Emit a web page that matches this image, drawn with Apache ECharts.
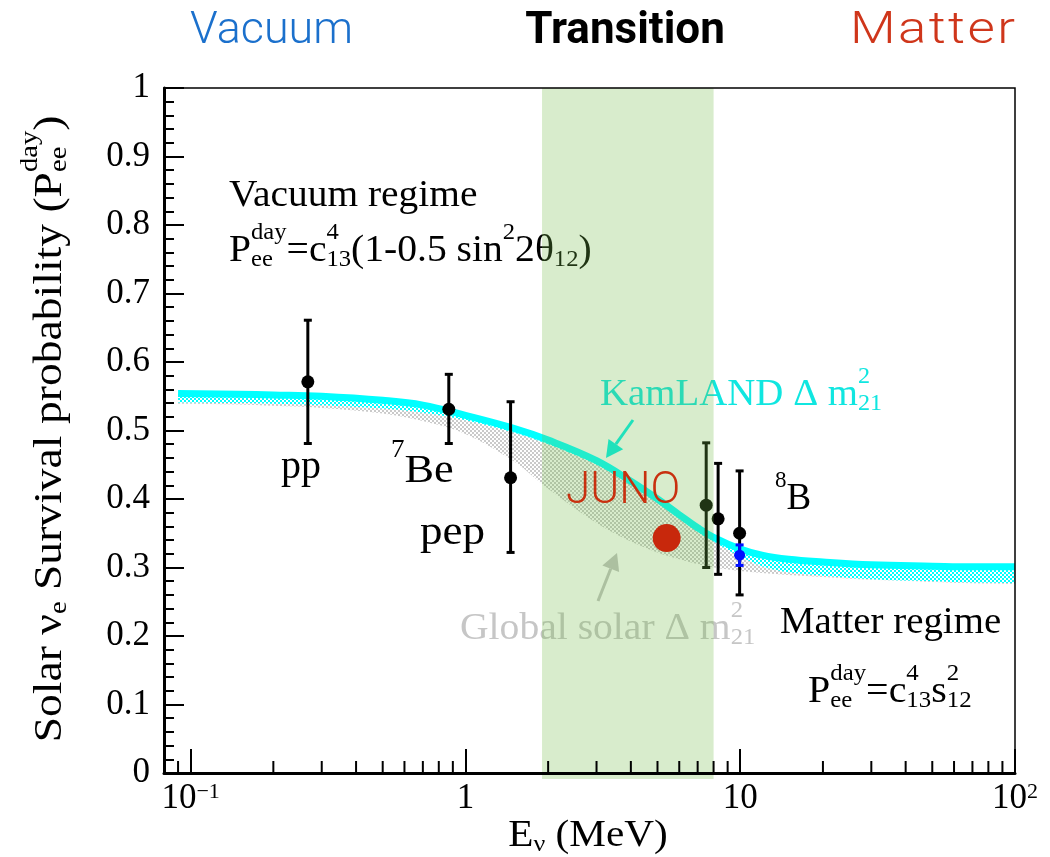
<!DOCTYPE html>
<html>
<head>
<meta charset="utf-8">
<title>Solar neutrino survival probability</title>
<script src="https://cdn.jsdelivr.net/npm/echarts@6/dist/echarts.min.js"></script>
<style>
  html, body { margin: 0; padding: 0; background: #ffffff; }
  #chart { width: 1050px; height: 857px; }
</style>
</head>
<body>
<div id="chart"></div>
<script>
// ---------- data ----------
// Energy grid (MeV) on which the two Pee bands are tabulated
const energyGrid = [0.09, 0.15, 0.2, 0.3, 0.5, 0.7, 1, 1.5, 2, 3, 4, 5, 6, 7, 8, 10, 12, 15, 20, 30, 50, 70, 100];
// KamLAND Δm²21 prediction: central curve and lower edge of its band
const kamlandCentral = [0.554, 0.553, 0.552, 0.550, 0.544, 0.537, 0.522, 0.503, 0.486, 0.456, 0.426, 0.400, 0.377, 0.358, 0.344, 0.327, 0.318, 0.312, 0.308, 0.304, 0.302, 0.301, 0.301];
const kamlandLower   = [0.541, 0.540, 0.539, 0.537, 0.532, 0.526, 0.515, 0.497, 0.480, 0.450, 0.420, 0.394, 0.371, 0.352, 0.338, 0.316, 0.302, 0.293, 0.288, 0.283, 0.280, 0.278, 0.277];
// Global solar Δm²21 prediction: lower edge (it reaches up to the KamLAND band)
const globalLower    = [0.539, 0.538, 0.536, 0.533, 0.525, 0.514, 0.495, 0.455, 0.415, 0.365, 0.338, 0.322, 0.312, 0.305, 0.300, 0.295, 0.292, 0.289, 0.286, 0.282, 0.279, 0.277, 0.276];

// Measurements: energy (MeV), Pee, lower and upper end of the error bar
const pointSource = ['pp', '7Be', 'pep', '8B', '8B', '8B', '8B'];
const pointEnergy = [0.267, 0.87, 1.46, 7.52, 8.31, 9.95, 9.95];
const pointPee    = [0.571, 0.531, 0.431, 0.391, 0.371, 0.350, 0.318];
const pointLow    = [0.481, 0.481, 0.322, 0.300, 0.290, 0.260, 0.303];
const pointHigh   = [0.661, 0.582, 0.542, 0.482, 0.452, 0.441, 0.333];

// JUNO expected point
const junoEnergy = [5.4];
const junoPee = [0.343];

// Transition region (MeV)
const transitionRange = [1.9, 8.0];

// Axis ticks
const xMinorTicks = [0.09, 0.2, 0.3, 0.4, 0.5, 0.6, 0.7, 0.8, 0.9, 2, 3, 4, 5, 6, 7, 8, 9, 20, 30, 40, 50, 60, 70, 80, 90];
const xTickLabels = { '-1': '{b|10}{s|\u22121}', '0': '{b|1}', '1': '{b|10}', '2': '{b|10}{s|2}' };

// ---------- styling helpers ----------
const SERIF = '"Liberation Serif", "Times New Roman", "DejaVu Serif", serif';
const SANS = 'Roboto, "Liberation Sans", Arial, sans-serif';

function checker(color, cell) {
  const c = document.createElement('canvas');
  c.width = c.height = cell * 2;
  const g = c.getContext('2d');
  g.fillStyle = color;
  g.fillRect(0, 0, cell, cell);
  g.fillRect(cell, cell, cell, cell);
  return { image: c, repeat: 'repeat' };
}
const grayHatch = checker('#cacaca', 2);
const cyanHatch = checker('#00ffff', 2);

const measureCtx = document.createElement('canvas').getContext('2d');
function textWidth(str, size, family, weight) {
  measureCtx.font = (weight || 'normal') + ' ' + size + 'px ' + family;
  return measureCtx.measureText(str).width;
}

// Lays out a line of text with stacked super/subscripts as a graphic group
function formula(parts, o) {
  const fam = o.family || SERIF;
  const S = o.size;
  const gap = o.spacing || 0;
  const items = [];
  let cx = 0;
  parts.forEach(function (p) {
    if (typeof p === 'string') {
      const chunks = gap ? p.split('') : [p];
      chunks.forEach(function (ch) {
        items.push({ t: ch, x: cx, dy: 0, s: S });
        cx += textWidth(ch, S, fam, o.weight) + gap;
      });
    } else {
      const s = Math.round(S * 0.62);
      let w = 0;
      if (p.sup) {
        items.push({ t: p.sup, x: cx, dy: -0.5 * S, s: s });
        w = Math.max(w, textWidth(p.sup, s, fam, o.weight));
      }
      if (p.sub) {
        items.push({ t: p.sub, x: cx, dy: 0.24 * S, s: s });
        w = Math.max(w, textWidth(p.sub, s, fam, o.weight));
      }
      cx += w;
    }
  });
  if (gap) cx -= gap;
  const sx = o.scaleX || 1;
  const off = o.align === 'center' ? -cx / 2 : (o.align === 'right' ? -cx : 0);
  return {
    type: 'group', x: o.x, y: o.y, rotation: o.rotation || 0, scaleX: sx, z: o.z || 5, silent: true,
    children: items.map(function (it) {
      return {
        type: 'text', x: it.x + off, y: it.dy, z: o.z || 5,
        style: { text: it.t, font: (o.weight || 'normal') + ' ' + it.s + 'px ' + fam, fill: o.fill || '#000', align: 'left', verticalAlign: 'middle' }
      };
    })
  };
}

function arrow(x1, y1, x2, y2, color, z) {
  const ang = Math.atan2(y2 - y1, x2 - x1);
  const L = 17, W = 9;
  const bx = x2 - L * Math.cos(ang), by = y2 - L * Math.sin(ang);
  const nx = -Math.sin(ang), ny = Math.cos(ang);
  return {
    type: 'group', z: z, silent: true,
    children: [
      { type: 'line', z: z, shape: { x1: x1, y1: y1, x2: bx, y2: by }, style: { stroke: color, lineWidth: 3 } },
      { type: 'polygon', z: z, shape: { points: [[x2, y2], [bx + nx * W, by + ny * W], [bx - nx * W, by - ny * W]] }, style: { fill: color } }
    ]
  };
}

// Band between two tabulated edges, drawn as one smoothed polygon
function bandSeries(name, lower, upper, fill, z) {
  return {
    type: 'custom', name: name, z: z, silent: true,
    data: energyGrid.map(function (e, i) { return [e, lower[i], upper[i]]; }),
    encode: { x: 0, y: [1, 2] },
    renderItem: function (params, api) {
      if (params.dataIndex !== 0) return null;
      const top = energyGrid.map(function (e, i) { return api.coord([e, upper[i]]); });
      const bot = energyGrid.map(function (e, i) { return api.coord([e, lower[i]]); }).reverse();
      const pts = [top[0]].concat(top, [top[top.length - 1]], [bot[0]], bot, [bot[bot.length - 1]]);
      return { type: 'polygon', shape: { points: pts, smooth: 0.35 }, style: { fill: fill } };
    }
  };
}

// Marker styles for the measurements
const markerColor = pointSource.map(function (s, i) { return i === 6 ? '#0010ff' : '#000000'; });
const markerRadius = pointSource.map(function (s, i) { return i === 6 ? 5.5 : 6.5; });

const chart = echarts.init(document.getElementById('chart'), null, { renderer: 'canvas' });

const option = {
  animation: false,
  backgroundColor: '#ffffff',
  grid: { left: 164, right: 35, top: 88, bottom: 84, show: true, borderColor: '#000', borderWidth: 1.5, z: 50, containLabel: false, outerBoundsMode: 'none' },
  xAxis: {
    type: 'log', logBase: 10, min: 0.08, max: 100, z: 50,
    axisLine: { lineStyle: { color: '#000', width: 3 } },
    axisTick: { inside: true, length: 24, lineStyle: { color: '#000', width: 2 } },
    minorTick: { show: false },
    splitLine: { show: false },
    axisLabel: {
      margin: 8,
      formatter: function (v) {
        const p = Math.round(Math.log10(v));
        if (Math.abs(Math.log10(v) - p) > 1e-6) return '';
        return xTickLabels[String(p)] || '';
      },
      rich: {
        b: { fontFamily: SERIF, fontSize: 35, lineHeight: 36, color: '#000' },
        s: { fontFamily: SERIF, fontSize: 22, color: '#000', verticalAlign: 'top' }
      }
    }
  },
  yAxis: {
    type: 'value', min: 0, max: 1, interval: 0.1, z: 50,
    axisLine: { show: true, lineStyle: { color: '#000', width: 3 } },
    axisTick: { show: true, inside: true, length: 20, lineStyle: { color: '#000', width: 2 } },
    minorTick: { show: true, splitNumber: 5, length: 10, lineStyle: { color: '#000', width: 2 } },
    splitLine: { show: false },
    axisLabel: { margin: 14, fontFamily: SERIF, fontSize: 35, color: '#000' }
  },
  series: [
    bandSeries('Global solar', globalLower, kamlandLower, grayHatch, 2),
    bandSeries('KamLAND band', kamlandLower, kamlandCentral, cyanHatch, 3),
    {
      type: 'line', name: 'KamLAND', z: 4, silent: true, smooth: 0.4, symbol: 'none',
      data: energyGrid.map(function (e, i) { return [e, kamlandCentral[i]]; }),
      lineStyle: { color: '#00ffff', width: 7 }
    },
    {
      type: 'custom', name: 'Measurements', z: 6, silent: true,
      data: pointEnergy.map(function (e, i) { return [e, pointPee[i], pointLow[i], pointHigh[i]]; }),
      encode: { x: 0, y: [1, 2, 3] },
      renderItem: function (params, api) {
        const i = params.dataIndex;
        const c = api.coord([api.value(0), api.value(1)]);
        const lo = api.coord([api.value(0), api.value(2)]);
        const hi = api.coord([api.value(0), api.value(3)]);
        const col = markerColor[i];
        const cap = 4;
        return {
          type: 'group', children: [
            { type: 'line', shape: { x1: lo[0], y1: lo[1], x2: hi[0], y2: hi[1] }, style: { stroke: col, lineWidth: 3 } },
            { type: 'line', shape: { x1: lo[0] - cap, y1: lo[1], x2: lo[0] + cap, y2: lo[1] }, style: { stroke: col, lineWidth: 3 } },
            { type: 'line', shape: { x1: hi[0] - cap, y1: hi[1], x2: hi[0] + cap, y2: hi[1] }, style: { stroke: col, lineWidth: 3 } },
            { type: 'circle', shape: { cx: c[0], cy: c[1], r: markerRadius[i] }, style: { fill: col } }
          ]
        };
      }
    },
    {
      type: 'custom', name: 'Transition', z: 10, silent: true,
      data: [transitionRange],
      encode: { x: [0, 1] },
      renderItem: function (params, api) {
        const a = api.coord([api.value(0), 1]);
        const b = api.coord([api.value(1), 0]);
        return { type: 'rect', shape: { x: a[0], y: a[1], width: b[0] - a[0], height: b[1] - a[1] + 6 }, style: { fill: 'rgba(116,187,73,0.28)' } };
      }
    },
    {
      type: 'scatter', name: 'JUNO', z: 20, silent: true, symbolSize: 28,
      data: junoEnergy.map(function (e, i) { return [e, junoPee[i]]; }),
      itemStyle: { color: '#c8280c', opacity: 1 }
    },
    {
      type: 'custom', name: 'x minor ticks', z: 51, silent: true,
      data: xMinorTicks.map(function (e) { return [e, 0]; }),
      encode: { x: 0, y: 1 },
      renderItem: function (params, api) {
        const p = api.coord([api.value(0), 0]);
        return { type: 'line', shape: { x1: p[0], y1: p[1], x2: p[0], y2: p[1] - 12 }, style: { stroke: '#000', lineWidth: 2 } };
      }
    }
  ],
  graphic: [
    // regime headers
    formula(['Vacuum'], { x: 190, y: 32, size: 44, family: SANS, weight: 300, fill: '#1b70cc', scaleX: 1.02, z: 60 }),
    formula(['Transition'], { x: 625, y: 32, size: 44, family: SANS, weight: 700, fill: '#000', align: 'center', z: 60 }),
    formula(['Matter'], { x: 1015, y: 32, size: 44, family: SANS, weight: 300, fill: '#cf361b', align: 'right', spacing: 2, scaleX: 1.2, z: 60 }),
    // annotations
    formula(['Vacuum regime'], { x: 229, y: 196, size: 37, scaleX: 1.065 }),
    formula(['P', { sup: 'day', sub: 'ee' }, '=c', { sup: '4', sub: '13' }, '(1-0.5 sin', { sup: '2' }, '2\u03b8', { sub: '12' }, ')'], { x: 229, y: 251, size: 37, scaleX: 1.07 }),
    formula(['KamLAND \u0394 m', { sup: '2', sub: '21' }], { x: 600, y: 395, size: 37, scaleX: 1.05, fill: '#10e6e0' }),
    formula(['Global solar \u0394 m', { sup: '2', sub: '21' }], { x: 460, y: 629, size: 37, scaleX: 1.07, fill: '#c6c6c6' }),
    formula(['Matter regime'], { x: 780, y: 623, size: 37, scaleX: 1.05 }),
    formula(['P', { sup: 'day', sub: 'ee' }, '=c', { sup: '4', sub: '13' }, 's', { sup: '2', sub: '12' }], { x: 808, y: 692, size: 37, scaleX: 1.08 }),
    formula(['pp'], { x: 301, y: 467, size: 40, align: 'center' }),
    formula([{ sup: '7' }, 'Be'], { x: 391, y: 471, size: 41, scaleX: 1.08 }),
    formula(['pep'], { x: 420, y: 533, size: 41, scaleX: 1.1 }),
    formula([{ sup: '8' }, 'B'], { x: 775, y: 499, size: 37 }),
    formula(['JUNO'], { x: 566, y: 492, size: 44, family: SANS, weight: 300, fill: '#c8300f', z: 30 }),
    arrow(633, 420, 606, 458, '#00f0e8', 5),
    arrow(598, 601, 617, 553, '#c2c2c2', 5),
    // axis titles
    formula(['E', { sub: '\u03bd' }, ' (MeV)'], { x: 588, y: 836, size: 38, align: 'center', scaleX: 1.085, z: 60 }),
    formula(['Solar \u03bd', { sub: 'e' }, ' Survival probability (P', { sup: 'day', sub: 'ee' }, ')'], { x: 50, y: 429, size: 40, align: 'center', scaleX: 1.14, rotation: Math.PI / 2, z: 60 })
  ]
};

chart.setOption(option);
</script>
</body>
</html>
